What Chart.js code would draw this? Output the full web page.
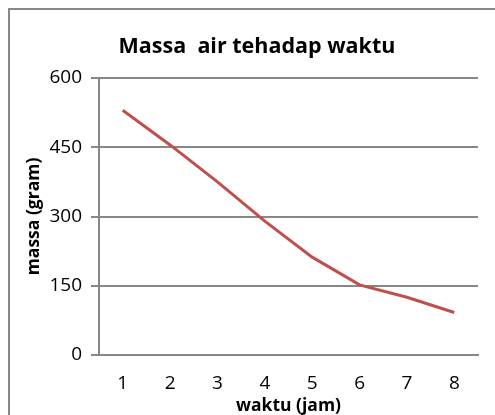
<!DOCTYPE html>
<html>
<head>
<meta charset="utf-8">
<script src="https://cdn.jsdelivr.net/npm/chart.js@4.4.0/dist/chart.umd.min.js"></script>
<style>
  html, body { margin: 0; padding: 0; background: #fff; }
  #wrap { position: relative; width: 495px; height: 415px; overflow: hidden; }
  #frame { position: absolute; left: 8px; top: 8px; width: 520px; height: 440px; border: 2px solid #888; box-sizing: border-box; }
  canvas { position: absolute; left: 0; top: 0; }
</style>
</head>
<body>
<div id="wrap">
  <div id="frame"></div>
  <canvas id="myChart" width="495" height="415"></canvas>
</div>
<script>
// data
const waktu = ['1', '2', '3', '4', '5', '6', '7', '8'];
const massa = [530, 455, 375, 290, 212, 152, 125, 92];
const yTicks = [0, 150, 300, 450, 600];

const judul = 'Massa  air tehadap waktu';
const fontName = "'Open Sans', 'Liberation Sans', sans-serif";
const abu = '#878787';

// title drawn by hand so it can sit left of the plot centre like the original
const titlePlugin = {
    id: 'judulGrafik',
    afterDraw(chart) {
        const c = chart.ctx;
        c.save();
        c.font = 'bold 21.5px ' + fontName;
        c.fillStyle = '#000';
        c.textAlign = 'center';
        c.textBaseline = 'middle';
        c.fillText(judul, 257, 47);
        c.restore();
    }
};

const ctx = document.getElementById('myChart').getContext('2d');
const myChart = new Chart(ctx, {
    type: 'line',
    plugins: [titlePlugin],
    data: {
        labels: waktu,
        datasets: [{
            label: 'massa',
            data: massa,
            borderColor: '#C0504D',
            backgroundColor: '#C0504D',
            borderWidth: 3,
            pointRadius: 0,
            tension: 0,
            fill: false
        }]
    },
    options: {
        responsive: false,
        animation: false,
        layout: {
            padding: { top: 78, right: 17, bottom: 0, left: 0 }
        },
        plugins: {
            legend: { display: false },
            tooltip: { enabled: false }
        },
        scales: {
            x: {
                offset: true,
                grid: { display: false, drawTicks: false },
                border: { display: true, color: abu, width: 2 },
                ticks: {
                    color: '#000',
                    padding: 17,
                    font: { family: fontName, size: 19 }
                },
                title: {
                    display: true,
                    text: 'waktu (jam)',
                    color: '#000',
                    padding: { top: 3, bottom: 0 },
                    font: { family: fontName, size: 17.5, weight: 'bold', lineHeight: 1.0 }
                },
                afterFit: function (scale) { scale.height = 60; }
            },
            y: {
                min: 0,
                max: 600,
                afterBuildTicks: function (scale) {
                    scale.ticks = yTicks.map(v => ({ value: v }));
                },
                grid: { color: abu, lineWidth: 2, tickLength: 8 },
                border: { display: true, color: abu, width: 2 },
                ticks: {
                    color: '#000',
                    padding: 9,
                    font: { family: fontName, size: 19 }
                },
                title: {
                    display: true,
                    text: 'massa (gram)',
                    color: '#000',
                    padding: { top: 24, bottom: 0 },
                    font: { family: fontName, size: 17.5, weight: 'bold' }
                },
                afterFit: function (scale) { scale.width = 99; }
            }
        }
    }
});
</script>
</body>
</html>
